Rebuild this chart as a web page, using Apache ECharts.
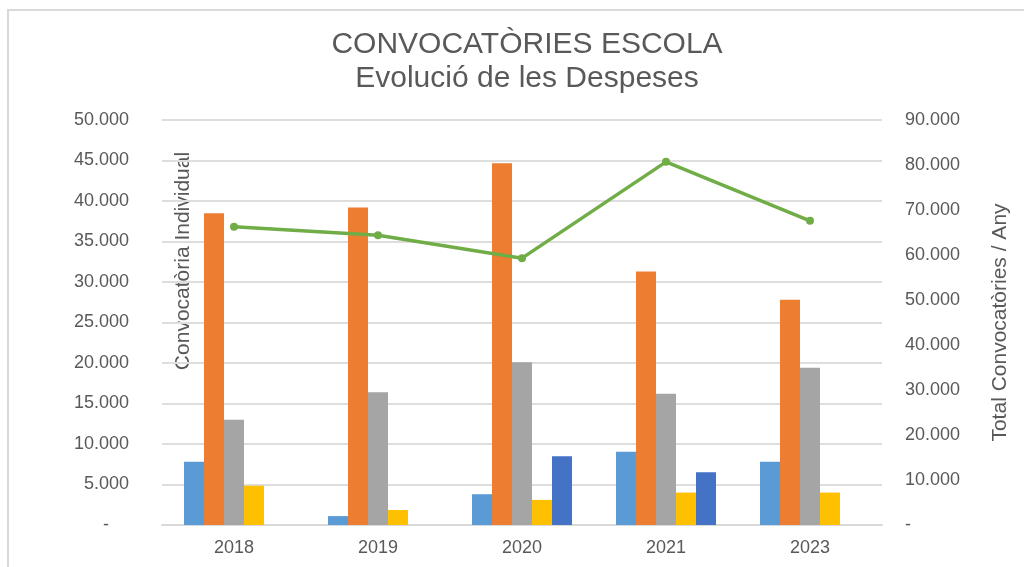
<!DOCTYPE html>
<html lang="ca">
<head>
<meta charset="UTF-8">
<title>Convocatòries Escola</title>
<script src="https://cdn.jsdelivr.net/npm/echarts@6/dist/echarts.min.js"></script>
<style>
  html, body { margin: 0; padding: 0; background: #fff; }
  #main { width: 1024px; height: 567px; }
</style>
</head>
<body>
<div id="main"></div>
<script type="text/javascript">
// dades llegides del gràfic
var anys = ['2018', '2019', '2020', '2021', '2023'];
var serie1 = [7800, 1100, 3800, 9050, 7800];      // blau clar
var serie2 = [38500, 39200, 44650, 31300, 27800]; // taronja
var serie3 = [13000, 16400, 20100, 16200, 19400]; // gris
var serie4 = [4850, 1850, 3100, 4000, 4000];      // groc
var serie5 = [null, null, 8500, 6500, null];      // blau fosc
var totalAny = [66300, 64400, 59300, 80700, 67600]; // línia verda (eix dret)

var textColor = '#595959';
var fontFam = '"Liberation Sans", Arial, sans-serif';

function fmtMiles(v) {
    if (v === 0) return '-';
    return String(v).replace(/\B(?=(\d{3})+(?!\d))/g, '.');
}

var chart = echarts.init(document.getElementById('main'));

function barra(nom, dades, color) {
    return {
        name: nom,
        type: 'bar',
        yAxisIndex: 0,
        barWidth: 20,
        barGap: '0%',
        itemStyle: { color: color },
        data: dades
    };
}

chart.setOption({
    animation: false,
    textStyle: { fontFamily: fontFam },
    title: [{
        text: 'CONVOCATÒRIES ESCOLA',
        left: 522,
        textAlign: 'center',
        top: 25,
        textStyle: { fontSize: 30, fontWeight: 'normal', color: textColor, fontFamily: fontFam }
    }, {
        text: 'Evolució de les Despeses',
        left: 522,
        textAlign: 'center',
        top: 59,
        textStyle: { fontSize: 30, fontWeight: 'normal', color: textColor, fontFamily: fontFam }
    }],
    graphic: [{
        type: 'rect',
        shape: { x: 8, y: 10, width: 1040, height: 600 },
        style: { fill: null, stroke: '#d9d9d9', lineWidth: 2 },
        silent: true
    }, {
        type: 'text',
        x: 183,
        y: 261,
        rotation: Math.PI / 2,
        style: {
            text: 'Convocatòria Individual',
            fill: textColor,
            font: '21px ' + fontFam,
            align: 'center',
            verticalAlign: 'middle'
        },
        silent: true
    }],
    grid: { left: 162, right: 142, top: 120, bottom: 42 },
    xAxis: {
        type: 'category',
        data: anys,
        axisTick: { show: false },
        axisLine: { lineStyle: { color: '#d9d9d9', width: 2 } },
        axisLabel: { color: textColor, fontSize: 18, margin: 14 }
    },
    yAxis: [{
        type: 'value',
        min: 0,
        max: 50000,
        interval: 5000,
        axisLine: { show: false },
        axisTick: { show: false },
        splitLine: { lineStyle: { color: '#dedede', width: 2 } },
        axisLabel: {
            color: textColor,
            fontSize: 18,
            margin: 33,
            formatter: function (v) { return v === 0 ? '-    ' : fmtMiles(v); }
        }
    }, {
        type: 'value',
        min: 0,
        max: 90000,
        interval: 10000,
        position: 'right',
        name: 'Total Convocatòries / Any',
        nameLocation: 'middle',
        nameRotate: 90,
        nameGap: 108,
        nameTextStyle: { color: textColor, fontSize: 21 },
        axisLine: { show: false },
        axisTick: { show: false },
        splitLine: { show: false },
        axisLabel: {
            color: textColor,
            fontSize: 18,
            margin: 23,
            formatter: fmtMiles
        }
    }],
    series: [
        barra('Sèrie 1', serie1, '#5B9BD5'),
        barra('Sèrie 2', serie2, '#ED7D31'),
        barra('Sèrie 3', serie3, '#A5A5A5'),
        barra('Sèrie 4', serie4, '#FFC000'),
        barra('Sèrie 5', serie5, '#4472C4'),
        {
            name: 'Total',
            type: 'line',
            yAxisIndex: 1,
            data: totalAny,
            symbol: 'circle',
            symbolSize: 8,
            lineStyle: { color: '#70AD47', width: 3.5 },
            itemStyle: { color: '#70AD47' },
            z: 5
        }
    ]
});
</script>
</body>
</html>
